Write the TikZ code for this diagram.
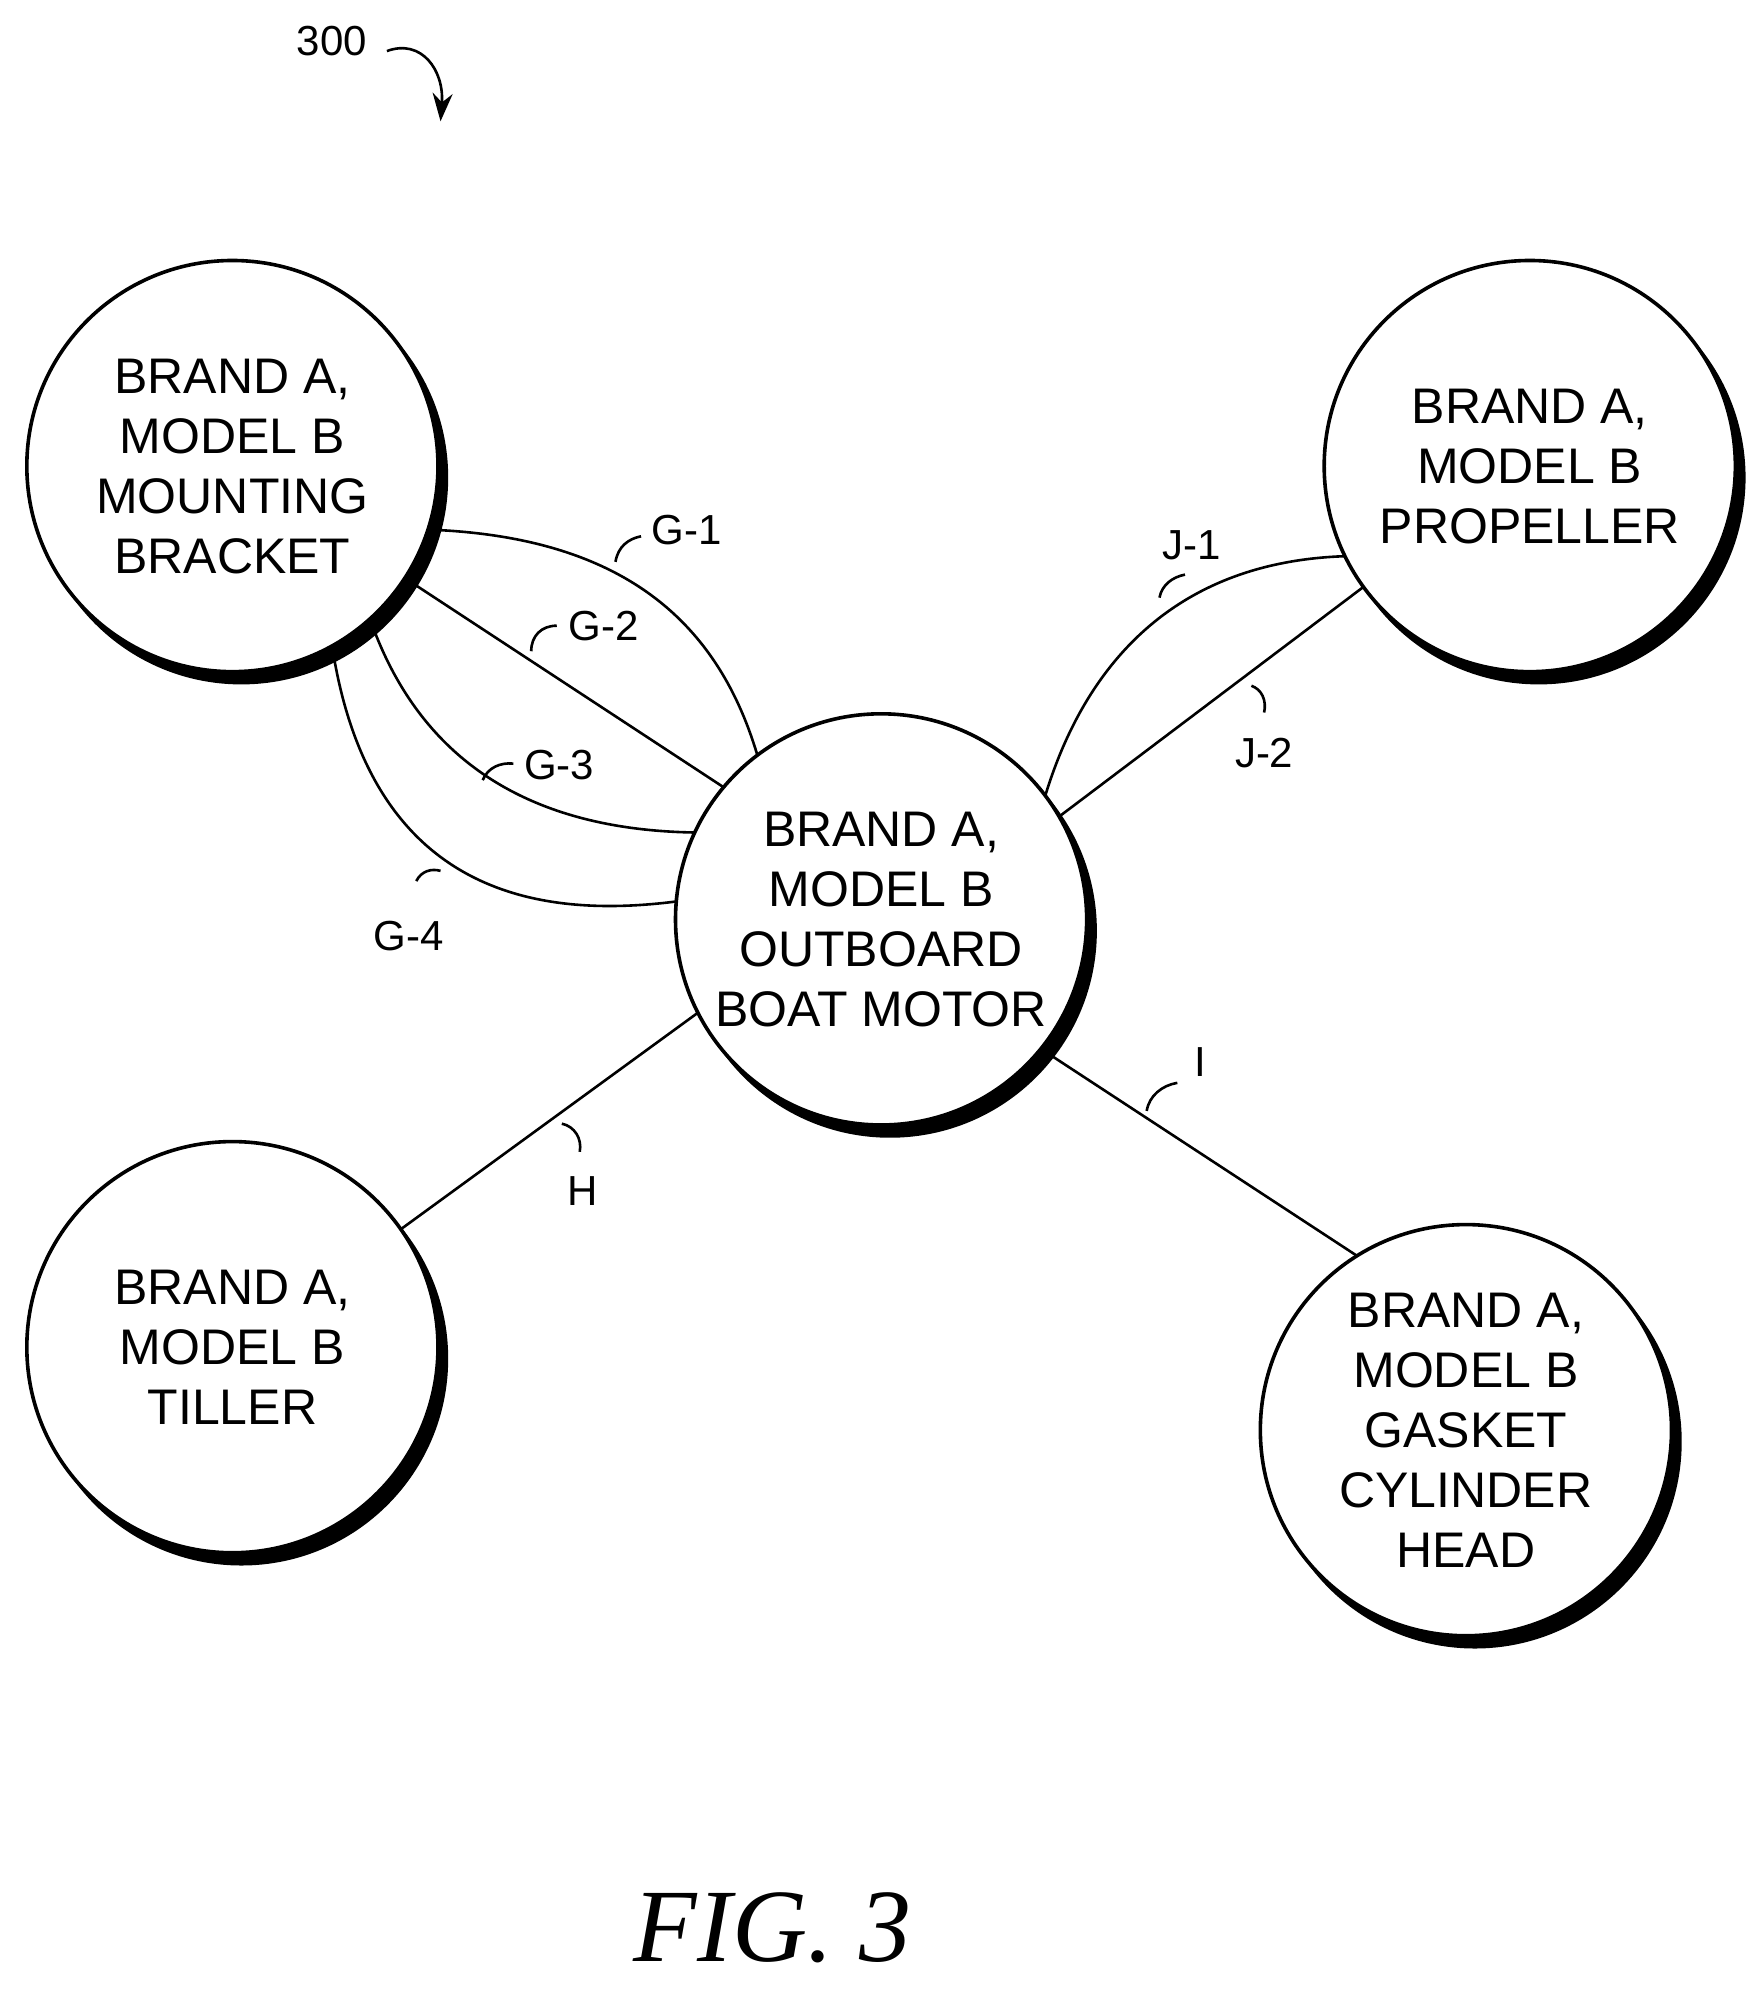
\documentclass[tikz,border=0pt]{standalone}
\usetikzlibrary{arrows.meta}
\usepackage{fontspec}
\setmainfont{Liberation Sans}
\newfontfamily\figfont{Liberation Serif}
\begin{document}
\begin{tikzpicture}[x=0.6385pt,y=-0.6385pt,
  ent/.style={circle,draw,fill=white,line width=1.8pt,minimum size=322*0.6385pt,inner sep=0pt,outer sep=0pt,align=center,font=\fontsize{25}{30}\selectfont},
  ln/.style={line width=1.3pt},
  lab/.style={font=\fontsize{21}{24}\selectfont}]
\useasboundingbox (0,0) rectangle (1378,1560);
\newcommand\shadowed[3]{%
  \fill ([shift={(7,9)}]#2) circle[radius=162*0.6385pt];
  \node[ent] (#1) at (#2) {#3};}
\shadowed{mb}{182,365}{BRAND A,\\MODEL B\\MOUNTING\\BRACKET}
\shadowed{pr}{1198,365}{BRAND A,\\MODEL B\\PROPELLER}
\shadowed{om}{690,720}{BRAND A,\\MODEL B\\OUTBOARD\\BOAT MOTOR}
\shadowed{ti}{182,1055}{BRAND A,\\MODEL B\\TILLER}
\shadowed{ga}{1148,1120}{BRAND A,\\MODEL B\\GASKET\\CYLINDER\\HEAD}
% connectors
\draw[ln] (mb.-18) .. controls (480,420) and (560,480) .. (om.127);
\draw[ln] (mb.-33) -- (om.140);
\draw[ln] (mb.-48) .. controls (330,600) and (420,650) .. (om.155);
\draw[ln] (mb.-61) .. controls (290,700) and (420,720) .. (om.175);
\draw[ln] (om.37) .. controls (850,520) and (920,440) .. (pr.206);
\draw[ln] (om.30) -- (pr.216);
\draw[ln] (om.207) -- (ti.35);
\draw[ln] (om.-39) -- (ga.122);
% label hooks
\draw[ln] (482,440) .. controls (484,428) and (492,422) .. (502,420);
\draw[ln] (416,510) .. controls (416,498) and (424,490) .. (436,490);
\draw[ln] (378,611) .. controls (382,601) and (392,597) .. (402,598);
\draw[ln] (326,690) .. controls (330,682) and (338,680) .. (345,682);
\draw[ln] (908,468) .. controls (910,458) and (918,452) .. (928,450);
\draw[ln] (980,537) .. controls (988,540) and (992,548) .. (990,558);
\draw[ln] (440,880) .. controls (450,882) and (456,892) .. (454,902);
\draw[ln] (898,870) .. controls (900,858) and (910,850) .. (922,848);
\node[lab,anchor=west] (g1) at (505,415) {G-1};
\node[lab,anchor=west] (g2) at (440,490) {G-2};
\node[lab,anchor=west] (g3) at (405,599) {G-3};
\node[lab] (g4) at (320,733) {G-4};
\node[lab] (j1) at (933,427) {J-1};
\node[lab] (j2) at (990,590) {J-2};
\node[lab] (h) at (456,933) {H};
\node[lab] (i) at (940,832) {I};
\node[lab] (n300) at (260,32) {300};
\coordinate (a1) at (303,40);
\coordinate (a2) at (345,95);
\draw[ln,-{Stealth[length=14pt,width=10pt]}] (a1) .. controls (330,30) and (348,55) .. (a2);
\node[font=\figfont\itshape\fontsize{52}{56}\selectfont] (fig) at (605,1510) {FIG. 3};
\end{tikzpicture}
\end{document}
